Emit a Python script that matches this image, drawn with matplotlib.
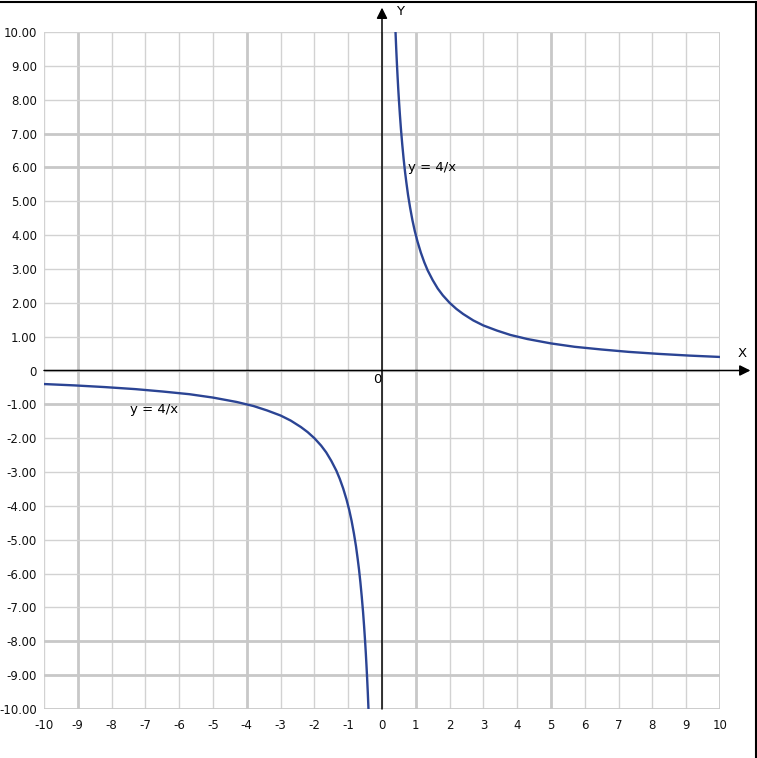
import matplotlib
matplotlib.use("Agg")
import matplotlib.pyplot as plt
from matplotlib.lines import Line2D

# ---- data: points of y = 4/x ----
pos_x = [0.4, 0.42, 0.44, 0.46, 0.48, 0.5, 0.53, 0.56, 0.6, 0.64, 0.68, 0.72, 0.77,
         0.83, 0.9, 0.97, 1.05, 1.15, 1.25, 1.35, 1.5, 1.65, 1.8, 2.0, 2.2, 2.4,
         2.7, 3.0, 3.4, 3.8, 4.3, 5.0, 5.7, 6.5, 7.3, 8.2, 9.1, 10.0]
pos_y = [10.0, 9.52, 9.09, 8.7, 8.33, 8.0, 7.55, 7.14, 6.67, 6.25, 5.88, 5.56, 5.19,
         4.82, 4.44, 4.12, 3.81, 3.48, 3.2, 2.96, 2.67, 2.42, 2.22, 2.0, 1.82, 1.67,
         1.48, 1.33, 1.18, 1.05, 0.93, 0.8, 0.7, 0.62, 0.55, 0.49, 0.44, 0.4]
neg_x = [-10.0, -9.1, -8.2, -7.3, -6.5, -5.7, -5.0, -4.3, -3.8, -3.4, -3.0, -2.7,
         -2.4, -2.2, -2.0, -1.8, -1.65, -1.5, -1.35, -1.25, -1.15, -1.05, -0.97,
         -0.9, -0.83, -0.77, -0.72, -0.68, -0.64, -0.6, -0.56, -0.53, -0.5, -0.48,
         -0.46, -0.44, -0.42, -0.4]
neg_y = [-0.4, -0.44, -0.49, -0.55, -0.62, -0.7, -0.8, -0.93, -1.05, -1.18, -1.33,
         -1.48, -1.67, -1.82, -2.0, -2.22, -2.42, -2.67, -2.96, -3.2, -3.48, -3.81,
         -4.12, -4.44, -4.82, -5.19, -5.56, -5.88, -6.25, -6.67, -7.14, -7.55, -8.0,
         -8.33, -8.7, -9.09, -9.52, -10.0]

x_ticks = list(range(-10, 11))
y_ticks = list(range(-10, 11))
y_tick_labels = ["0" if v == 0 else f"{v:.2f}" for v in y_ticks]
label_text = "y = 4/x"

# grid lines that look heavier in the original image
heavy_x = [-9, -4, 1, 5, 10]
heavy_y = [7, 6, -1, -8, -9, -10]

W, H = 757, 758
fig = plt.figure(figsize=(W / 100, H / 100), dpi=100)
fig.patch.set_facecolor("white")
ax = fig.add_axes([44 / W, (H - 709) / H, (720 - 44) / W, (709 - 32) / H])
ax.set_xlim(-10, 10)
ax.set_ylim(-10, 10)

# grid
for v in x_ticks:
    heavy = v in heavy_x
    ax.axvline(v, color="#c8c8c8" if heavy else "#d2d2d2",
               lw=2.0 if heavy else 1.0, zorder=0)
for v in y_ticks:
    heavy = v in heavy_y
    ax.axhline(v, color="#c8c8c8" if heavy else "#d2d2d2",
               lw=2.0 if heavy else 1.0, zorder=0)

for s in ax.spines.values():
    s.set_visible(False)

ax.set_xticks(x_ticks)
ax.set_xticklabels([str(v) for v in x_ticks])
ax.set_yticks(y_ticks)
ax.set_yticklabels(y_tick_labels)
ax.tick_params(length=0, labelsize=8.5, colors="#111111")
ax.tick_params(axis="x", pad=7)
ax.tick_params(axis="y", pad=5)

# axes with arrows
ax.annotate("", xy=(10.9, 0), xytext=(-10, 0), annotation_clip=False,
            arrowprops=dict(arrowstyle="-|>", color="black", lw=1.1,
                            mutation_scale=16, shrinkA=0, shrinkB=0))
ax.annotate("", xy=(0, 10.72), xytext=(0, -10), annotation_clip=False,
            arrowprops=dict(arrowstyle="-|>", color="black", lw=1.1,
                            mutation_scale=16, shrinkA=0, shrinkB=0))

# curve
ax.plot(pos_x, pos_y, color="#2B4494", lw=1.7, zorder=3, solid_joinstyle="round")
ax.plot(neg_x, neg_y, color="#2B4494", lw=1.7, zorder=3, solid_joinstyle="round")

ax.text(0.78, 6.0, label_text, fontsize=9.5, ha="left", va="center")
ax.text(-7.45, -1.14, label_text, fontsize=9.5, ha="left", va="center")
ax.text(-0.15, -0.28, "0", fontsize=9.5, ha="center", va="center")
ax.text(10.66, 0.5, "X", fontsize=9.5, ha="center", va="center", clip_on=False)
ax.text(0.53, 10.62, "Y", fontsize=9.5, ha="center", va="center", clip_on=False)

# outer frame pieces (top and right)
fig.add_artist(Line2D([0, 756 / W], [1 - 1.5 / H, 1 - 1.5 / H],
                      transform=fig.transFigure, color="black", lw=1.5))
fig.add_artist(Line2D([755.5 / W, 755.5 / W], [0, 1 - 1.5 / H],
                      transform=fig.transFigure, color="black", lw=1.5))

fig.savefig("out.png", dpi=100)
